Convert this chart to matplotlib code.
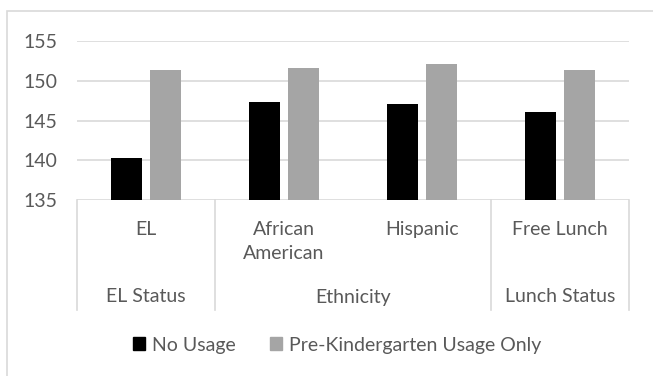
import matplotlib.pyplot as plt
import matplotlib.patches as mpatches
from matplotlib.transforms import blended_transform_factory

# values
categories = ["EL", "African\nAmerican", "Hispanic", "Free Lunch"]
groups = ["EL Status", "Ethnicity", "Lunch Status"]
group_centers = [0, 1.5, 3]
group_edges = [-0.5, 0.5, 2.5, 3.5]
no_usage = [140.3, 147.3, 147.1, 146.1]
prek_only = [151.4, 151.6, 152.1, 151.4]
series_names = ["No Usage", "Pre-Kindergarten Usage Only"]
yticks = [135, 140, 145, 150, 155]

W, H = 653, 376
TXT = "#595959"
GRID = "#D9D9D9"
FS = 14
plt.rcParams['font.family'] = ['Lato', 'DejaVu Sans']

fig = plt.figure(figsize=(W / 100, H / 100), dpi=100)

# outer chart border (cut by the image on right and bottom)
fig.patches.append(mpatches.Rectangle((7 / W, -0.05), 1.1, 1 - 11 / H + 0.05,
                                      transform=fig.transFigure, fill=False,
                                      edgecolor=GRID, linewidth=1.2))

ax = fig.add_axes([77 / W, 1 - 200 / H, (629 - 77) / W, (200 - 41) / H])
x = list(range(len(categories)))
w = 0.225
ax.bar([i - 0.143 for i in x], no_usage, w, color="black", zorder=3)
ax.bar([i + 0.143 for i in x], prek_only, w, color="#A5A5A5", zorder=3)

ax.set_xlim(-0.5, 3.5)
ax.set_ylim(135, 155)
ax.set_yticks(yticks)
ax.yaxis.grid(True, color=GRID, linewidth=1.2)
ax.set_axisbelow(True)
for s in ax.spines.values():
    s.set_visible(False)
ax.tick_params(axis="y", length=0, pad=14, labelsize=FS, labelcolor=TXT)
ax.set_xticks([])

# multi-level category axis
tr = blended_transform_factory(ax.transData, fig.transFigure)
for xe in group_edges:
    ax.plot([xe, xe], [1 - 200 / H, 1 - 310 / H], color=GRID, linewidth=1.2,
            transform=tr, clip_on=False)
for i, c in enumerate(categories):
    ax.text(i, 1 - 221 / H, c, transform=tr, ha="center", va="top",
            fontsize=FS, color=TXT, linespacing=1.5)
for gc, g in zip(group_centers, groups):
    ax.text(gc, 1 - 297 / H, g, transform=tr, ha="center", va="center",
            fontsize=FS, color=TXT)

handles = [mpatches.Patch(color="black"), mpatches.Patch(color="#A5A5A5")]
fig.legend(handles, series_names, loc="center", bbox_to_anchor=(337 / W, 1 - 345 / H),
           ncol=2, frameon=False, handlelength=0.6, handleheight=0.6,
           handletextpad=0.35, columnspacing=1.8, fontsize=FS, labelcolor=TXT)

fig.savefig("out.png", dpi=100)
